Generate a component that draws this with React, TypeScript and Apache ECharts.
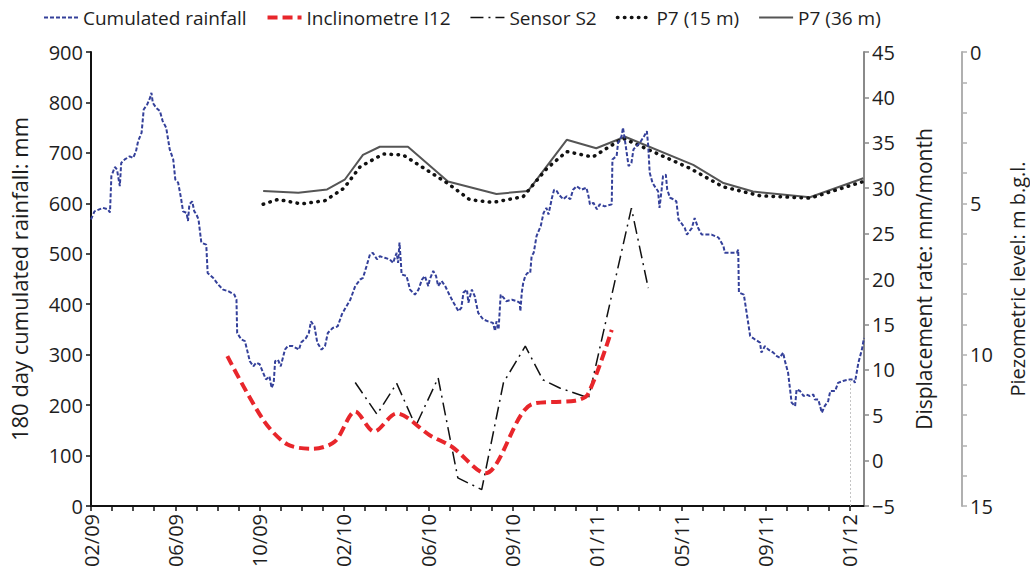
import React, { useEffect, useRef } from "react";
import * as echarts from "echarts";

// ---- X axis (days from 6 Feb 2009); tick labels every 120 days, minor ticks every 30 days
const xTickLabels = ["02/09", "06/09", "10/09", "02/10", "06/10", "09/10", "01/11", "05/11", "09/11", "01/12"];
const xMajorStep = 120;
const xMinorStep = 30;
const xMaxDay = 1100;

// ---- 180 day cumulated rainfall (mm)
const rainfallDays = [0, 5, 17, 24, 27, 29, 34, 37, 41, 43, 48, 55, 60, 64, 67, 72, 75, 80, 84, 86, 88, 93, 98, 102, 107, 112, 117, 120, 124, 128, 131, 136, 138, 140, 144, 147, 150, 153, 157, 164, 166, 174, 181, 188, 195, 204, 207, 208, 214, 219, 222, 226, 231, 235, 240, 245, 249, 254, 257, 260, 262, 266, 270, 276, 280, 287, 296, 299, 306, 310, 313, 318, 322, 328, 333, 337, 344, 351, 357, 361, 369, 376, 383, 387, 392, 397, 401, 407, 411, 418, 425, 430, 433, 435, 437, 439, 441, 442, 449, 454, 461, 466, 471, 475, 480, 482, 487, 491, 494, 499, 504, 511, 516, 523, 527, 530, 535, 537, 542, 546, 551, 558, 565, 572, 575, 577, 580, 583, 587, 591, 599, 606, 610, 611, 613, 615, 618, 621, 625, 627, 630, 634, 636, 640, 644, 648, 651, 656, 659, 663, 666, 672, 677, 682, 686, 691, 698, 705, 708, 710, 715, 720, 724, 731, 741, 742, 748, 750, 755, 757, 760, 762, 765, 769, 772, 776, 781, 787, 791, 793, 795, 799, 802, 807, 809, 812, 814, 818, 820, 824, 829, 833, 836, 840, 845, 848, 855, 859, 864, 869, 883, 893, 900, 902, 919, 921, 922, 929, 933, 938, 945, 952, 954, 959, 964, 971, 976, 980, 985, 987, 992, 997, 1002, 1004, 1009, 1014, 1018, 1023, 1028, 1030, 1035, 1040, 1044, 1049, 1052, 1059, 1063, 1070, 1080, 1085, 1087, 1092, 1097, 1100];
const rainfallMm = [568, 584, 591, 588, 582, 654, 672, 667, 634, 680, 687, 693, 690, 703, 723, 740, 786, 796, 809, 819, 799, 789, 783, 763, 750, 707, 687, 647, 641, 611, 584, 581, 565, 598, 604, 584, 578, 568, 522, 518, 462, 452, 439, 429, 426, 419, 409, 343, 330, 327, 310, 287, 277, 284, 281, 264, 251, 257, 234, 244, 287, 290, 277, 310, 317, 317, 310, 324, 333, 343, 366, 356, 324, 310, 317, 343, 353, 356, 380, 390, 409, 436, 449, 452, 475, 499, 502, 489, 495, 492, 489, 482, 495, 502, 482, 522, 482, 459, 456, 429, 419, 429, 449, 456, 436, 449, 466, 456, 436, 446, 436, 416, 403, 386, 393, 423, 429, 403, 429, 416, 383, 370, 366, 363, 347, 366, 350, 419, 413, 406, 409, 406, 403, 386, 423, 442, 456, 462, 462, 495, 502, 535, 542, 555, 581, 591, 578, 611, 627, 624, 617, 608, 614, 608, 627, 634, 627, 631, 614, 598, 601, 588, 598, 594, 598, 687, 694, 720, 733, 750, 723, 703, 674, 680, 707, 713, 720, 733, 743, 713, 661, 641, 634, 624, 591, 627, 654, 657, 627, 611, 608, 604, 568, 561, 551, 538, 551, 571, 551, 538, 538, 532, 515, 502, 502, 508, 423, 419, 383, 337, 330, 324, 304, 317, 310, 304, 297, 294, 304, 290, 264, 205, 198, 231, 228, 218, 221, 218, 221, 211, 211, 185, 198, 208, 228, 228, 244, 248, 251, 251, 244, 284, 310, 333];
const rainfallRefDay = 1080;
const rainfallRefTop = 251;

// ---- Displacement rate (mm/month)
const inclinometerDays = [194, 245, 279, 316, 347, 376, 403, 435, 482, 514, 561, 627, 689, 707, 741];
const inclinometerRate = [11.5, 4.5, 1.8, 1.3, 2.1, 5.4, 3.2, 5.2, 2.8, 1.5, -1.4, 6.2, 6.6, 7.3, 14.4];
const sensorDays = [376, 407, 435, 462, 494, 522, 556, 587, 618, 643, 667, 708, 769, 793];
const sensorRate = [8.6, 5.1, 8.5, 3.8, 9.1, -1.9, -3.2, 8.6, 12.6, 8.9, 8.0, 6.9, 27.8, 19.0];

// ---- Piezometric level (m b.g.l.)
const p7DeepDays = [245, 295, 336, 361, 387, 411, 451, 508, 577, 622, 677, 719, 760, 857, 900, 942, 1023, 1099];
const p7DeepLevel = [4.59, 4.65, 4.54, 4.22, 3.4, 3.13, 3.13, 4.28, 4.69, 4.59, 2.9, 3.18, 2.8, 3.73, 4.33, 4.61, 4.8, 4.17];
const p7ShallowDays = [245, 266, 299, 333, 360, 383, 416, 444, 507, 539, 572, 615, 649, 677, 714, 757, 852, 899, 952, 1023, 1099];
const p7ShallowLevel = [5.03, 4.87, 5.02, 4.91, 4.5, 3.79, 3.37, 3.4, 4.33, 4.88, 4.97, 4.78, 3.84, 3.29, 3.47, 2.85, 3.84, 4.45, 4.75, 4.83, 4.28];

const FONT = "'Open Sans', 'Noto Sans', sans-serif";
const TXT = "#1e1e1e";

const zip = (xs: number[], ys: number[]) => xs.map((x, i) => [x, ys[i]]);

export default function App() {
  const ref = useRef<HTMLDivElement>(null);
  useEffect(() => {
    if (!ref.current) return;
    const chart = echarts.init(ref.current, null, { renderer: "svg" });

    const majorValues = xTickLabels.map((_, i) => i * xMajorStep);
    const tickValues: number[] = [];
    for (let v = 0; v <= majorValues[majorValues.length - 1]; v += xMinorStep) tickValues.push(v);

    const styles = {
      rain: { color: "#34409A", width: 2, type: [4, 2] as any },
      incl: { color: "#E8262B", width: 4, type: [10, 5] as any },
      sensor: { color: "#111111", width: 1.5, type: [13, 5, 2, 5] as any },
      p15: { color: "#111111", width: 3.5, type: [0.5, 6.5] as any, cap: "round" as any },
      p36: { color: "#555555", width: 2, type: "solid" as any },
    };
    const hiddenSymbol = { opacity: 0, color: "transparent", borderWidth: 0 };

    const yCommon = {
      type: "value",
      nameLocation: "middle",
      nameRotate: 90,
      nameTextStyle: { fontSize: 21, color: TXT, fontFamily: FONT },
      splitLine: { show: false },
      axisLabel: { fontSize: 20, color: TXT, fontFamily: FONT, margin: 8 },
    };

    chart.setOption({
      animation: false,
      backgroundColor: "#ffffff",
      textStyle: { fontFamily: FONT },
      legend: {
        top: 3,
        left: 38,
        itemWidth: 34,
        itemHeight: 12,
        itemGap: 19,
        itemStyle: hiddenSymbol,
        textStyle: { fontSize: 19, color: TXT, fontFamily: FONT },
        data: [
          { name: "Cumulated rainfall", lineStyle: styles.rain, itemStyle: hiddenSymbol },
          { name: "Inclinometre I12", lineStyle: styles.incl, itemStyle: hiddenSymbol },
          { name: "Sensor S2", lineStyle: styles.sensor, itemStyle: hiddenSymbol },
          { name: "P7 (15 m)", lineStyle: styles.p15, itemStyle: hiddenSymbol },
          { name: "P7 (36 m)", lineStyle: styles.p36, itemStyle: hiddenSymbol },
        ],
      },
      grid: { left: 91, right: 166, top: 52, bottom: 68, containLabel: false, outerBoundsMode: "none" },
      xAxis: {
        type: "value",
        min: 0,
        max: xMaxDay,
        interval: xMajorStep,
        splitLine: { show: false },
        axisLine: { show: true, onZero: false, lineStyle: { color: "#111", width: 2 } },
        axisTick: { show: true, length: 5, customValues: tickValues, lineStyle: { color: "#111", width: 1.5 } },
        axisLabel: {
          customValues: majorValues,
          rotate: 90,
          fontSize: 20,
          color: TXT,
          fontFamily: FONT,
          margin: 8,
          formatter: (v: number) => {
            const i = Math.round(v / xMajorStep);
            return Math.abs(v - i * xMajorStep) < 1e-6 && xTickLabels[i] ? xTickLabels[i] : "";
          },
        },
      },
      yAxis: [
        {
          ...yCommon,
          name: "180 day cumulated rainfall: mm",
          nameTextStyle: { fontSize: 22, color: TXT, fontFamily: FONT },
          nameGap: 61,
          position: "left",
          min: 0,
          max: 900,
          interval: 100,
          axisLine: { show: true, lineStyle: { color: "#111", width: 2 } },
          axisTick: { show: true, length: 5, lineStyle: { color: "#111", width: 1.5 } },
        },
        {
          ...yCommon,
          name: "Displacement rate: mm/month",
          nameGap: 49,
          position: "right",
          offset: 0,
          min: -5,
          max: 45,
          interval: 5,
          axisLabel: { ...yCommon.axisLabel, formatter: (v: number) => (v < 0 ? "\u2212" + Math.abs(v) : String(v)) },
          axisLine: { show: true, lineStyle: { color: "#8a8a8a", width: 2 } },
          axisTick: { show: true, length: 5, lineStyle: { color: "#8a8a8a", width: 1.5 } },
        },
        {
          ...yCommon,
          name: "Piezometric level: m b.g.l.",
          nameTextStyle: { fontSize: 20, color: TXT, fontFamily: FONT },
          nameGap: 45,
          position: "right",
          offset: 98,
          inverse: true,
          min: 0,
          max: 15,
          interval: 5,
          axisLine: { show: true, lineStyle: { color: "#b0b0b0", width: 2 } },
          axisTick: { show: true, length: 5, lineStyle: { color: "#b0b0b0", width: 1.5 } },
          minorTick: { show: true, splitNumber: 5, length: 5, lineStyle: { color: "#b0b0b0", width: 1.5 } },
          minorSplitLine: { show: false },
        },
      ],
      series: [
        {
          name: "P7 (36 m)",
          type: "line",
          yAxisIndex: 2,
          symbol: "none",
          color: styles.p36.color,
          data: zip(p7DeepDays, p7DeepLevel),
          lineStyle: styles.p36,
          z: 2,
        },
        {
          name: "P7 (15 m)",
          type: "line",
          yAxisIndex: 2,
          symbol: "none",
          color: styles.p15.color,
          data: zip(p7ShallowDays, p7ShallowLevel),
          lineStyle: styles.p15,
          z: 3,
        },
        {
          name: "Cumulated rainfall",
          type: "line",
          yAxisIndex: 0,
          symbol: "none",
          color: styles.rain.color,
          data: zip(rainfallDays, rainfallMm),
          lineStyle: styles.rain,
          z: 4,
          markLine: {
            silent: true,
            symbol: "none",
            label: { show: false },
            lineStyle: { color: "#c4c4c4", width: 1, type: [2, 2] },
            data: [[{ coord: [rainfallRefDay, 0] }, { coord: [rainfallRefDay, rainfallRefTop] }]],
          },
        },
        {
          name: "Sensor S2",
          type: "line",
          yAxisIndex: 1,
          symbol: "none",
          color: styles.sensor.color,
          data: zip(sensorDays, sensorRate),
          lineStyle: styles.sensor,
          z: 5,
        },
        {
          name: "Inclinometre I12",
          type: "line",
          yAxisIndex: 1,
          symbol: "none",
          color: styles.incl.color,
          smooth: 0.3,
          data: zip(inclinometerDays, inclinometerRate),
          lineStyle: styles.incl,
          z: 6,
        },
      ],
    });
    return () => chart.dispose();
  }, []);
  return <div ref={ref} style={{ position: "fixed", left: 0, top: 0, width: 1030, height: 574 }} />;
}
